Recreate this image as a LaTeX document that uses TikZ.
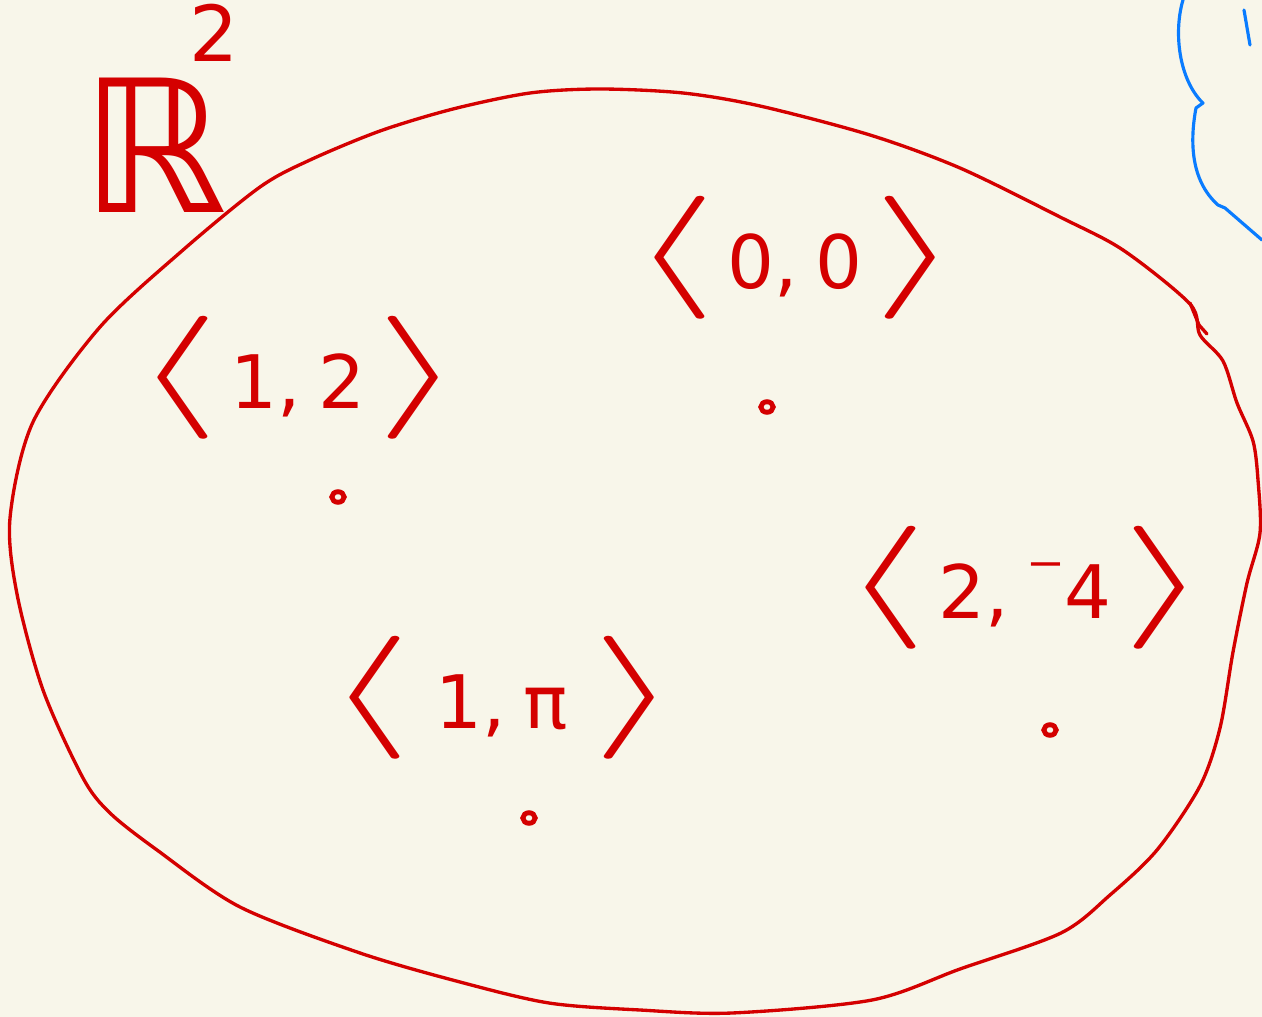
\documentclass[tikz,border=0pt]{standalone}
\usepackage{fontspec}
\setmainfont{DejaVu Sans}
\newfontfamily\lmm{Latin Modern Math}
\definecolor{bg}{HTML}{F8F6EA}
\definecolor{ink}{HTML}{D40000}
\definecolor{bluink}{HTML}{0A7CFF}
\newcommand{\brk}[1]{{\lmm\fontsize{70}{70}\selectfont\scalebox{1.8}[1]{#1}}}
\newcommand{\inn}[1]{{\fontsize{42}{42}\selectfont#1}}
\newcommand{\tupl}[3][6pt]{\brk{⟨}\hspace{#1}\inn{#2,\hspace{10pt}#3}\hspace{#1}\brk{⟩}}
\tikzset{
  stroke/.style={draw=ink, line width=1.9pt, line cap=round, line join=round},
  bstroke/.style={draw=bluink, line width=1.8pt, line cap=round, line join=round},
  lbl/.style={text=ink, inner sep=0pt, anchor=center},
  pt/.style={ellipse, draw=ink, line width=2.8pt, minimum width=7pt, minimum height=6pt, inner sep=0pt}
}
\usetikzlibrary{shapes.geometric}
\begin{document}
\begin{tikzpicture}[x=0.02cm, y=-0.02cm]
\fill[bg] (0,0) rectangle (1262,1017);
\useasboundingbox (0,0) rectangle (1262,1017);
% region outline
\draw[stroke] plot[smooth cycle, tension=0.5] coordinates {
 (600,89) (683,93) (760,106) (870,135) (960,168) (1060,217) (1123,250) (1190,304)
 (1200,335) (1223,361) (1237,403) (1253,441) (1258,480) (1260,533) (1247,583)
 (1233,652) (1220,728) (1200,786) (1157,850) (1110,895) (1061,933) (960,969)
 (872,1000) (732,1013) (640,1010) (549,1003) (460,982) (360,953) (240,907)
 (157,850) (110,813) (83,778) (43,690) (17,594) (10,518) (33,422) (100,327)
 (183,250) (260,187) (310,160) (380,131) (453,109) (530,93)};
\draw[stroke] (1190,303) -- (1199,325) -- (1207,334);
% labels
\node[lbl] (R2) at (160,108) {{\fontsize{105}{105}\selectfont ℝ}\hspace{-22pt}\raisebox{86pt}{\fontsize{44}{44}\selectfont 2}};
\node[lbl] (p00) at (795,258) {\tupl{0}{0}};
\node[lbl] (p12) at (298,378) {\tupl{1}{2}};
\node[lbl] (p24) at (1025,588) {\tupl{2}{\raisebox{10pt}{⁻}4}};
\node[lbl] (p1pi) at (502,698) {\tupl[14pt]{1}{π}};
% points
\node[pt] (d00) at (767,407) {};
\node[pt] (d12) at (338,497) {};
\node[pt] (d24) at (1050,730) {};
\node[pt] (d1pi) at (529,818) {};
% blue fragment
\draw[bstroke] (1183,0) .. controls (1174,30) and (1178,75) .. (1200,100)
  -- (1203,103) -- (1196,108) .. controls (1190,140) and (1190,180) .. (1218,205)
  -- (1225,208) -- (1262,240);
\draw[bstroke] (1244,10) -- (1250,45);
\end{tikzpicture}
\end{document}
